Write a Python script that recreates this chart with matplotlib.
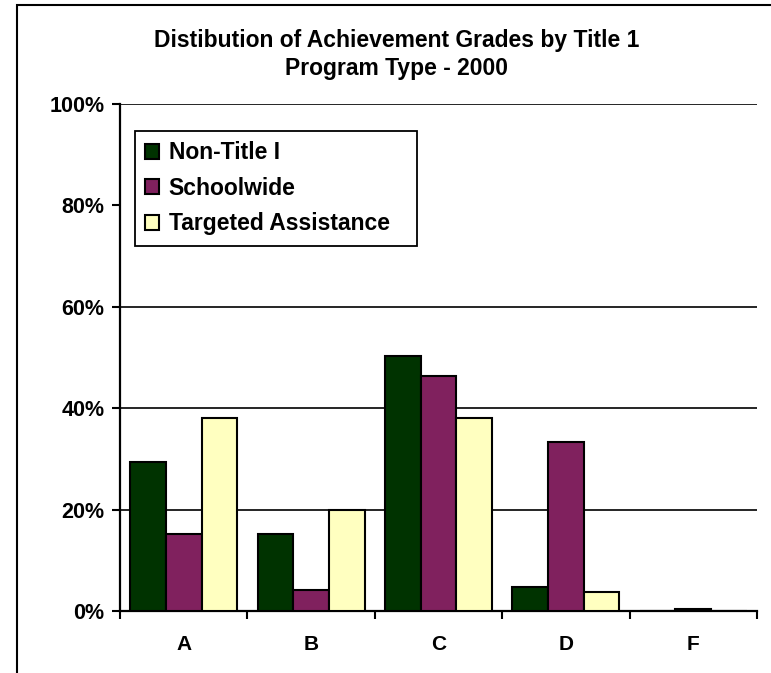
import numpy as np
import matplotlib
matplotlib.use("Agg")
import matplotlib.pyplot as plt
from matplotlib.patches import Rectangle

plt.rcParams['font.family'] = ['Liberation Sans', 'DejaVu Sans']
plt.rcParams['font.weight'] = 'bold'

grades = ['A', 'B', 'C', 'D', 'F']
non_title = [29.4, 15.2, 50.3, 4.7, 0.0]
schoolwide = [15.2, 4.2, 46.4, 33.3, 0.4]
targeted = [38.1, 20.0, 38.0, 3.8, 0.0]

series_names = ['Non-Title I', 'Schoolwide', 'Targeted Assistance']
colors = ['#003300', '#80215E', '#FFFFC0']

fig = plt.figure(figsize=(7.71, 6.73), dpi=100)
ax = fig.add_axes([120 / 771, 62 / 673, 637 / 771, 507 / 673])

x = np.arange(len(grades))
w = 0.28
for i, (vals, name, c) in enumerate(zip([non_title, schoolwide, targeted], series_names, colors)):
    ax.bar(x + (i - 1) * w, vals, w, color=c, edgecolor='black', linewidth=1.5,
           label=name, zorder=3)

# gridlines (80% one is not shown in the original)
for g in [20, 40, 60, 100]:
    ax.axhline(g, color='black', linewidth=1.2, zorder=1)

ax.set_xlim(-0.5, len(grades) - 0.5)
ax.set_ylim(0, 100)
ax.set_yticks([0, 20, 40, 60, 80, 100])
ax.set_yticklabels(['0%', '20%', '40%', '60%', '80%', '100%'])
ax.set_xticks(np.arange(-0.5, len(grades), 1.0))
ax.set_xticklabels([])
ax.set_xticks(x, minor=True)
ax.set_xticklabels(grades, minor=True)
ax.tick_params(axis='x', which='major', length=6, width=1.5, direction='out')
ax.tick_params(axis='x', which='minor', length=0, pad=17, labelsize=15)
ax.tick_params(axis='y', length=6, width=1.5, direction='out', pad=5, labelsize=15.5)

for s in ['top', 'right']:
    ax.spines[s].set_visible(False)
for s in ['left', 'bottom']:
    ax.spines[s].set_linewidth(1.6)

leg = ax.legend(loc='upper left', bbox_to_anchor=(0.0235, 0.5, (417 - 135) / 637, 0.447),
                mode='expand', fancybox=False,
                edgecolor='black', framealpha=1, fontsize=16.5, handlelength=0.62,
                handleheight=0.62, handletextpad=0.4, labelspacing=0.55,
                borderpad=0.45, borderaxespad=0)
leg.get_frame().set_linewidth(1.3)
leg.set_zorder(5)

fig.text(397 / 771, 1 - 40 / 673, 'Distibution of Achievement Grades by Title 1',
         ha='center', va='center', fontsize=16.5, fontweight='bold')
fig.text(397 / 771, 1 - 68 / 673, 'Program Type - 2000',
         ha='center', va='center', fontsize=16.5, fontweight='bold')

# outer chart border
fig.patches.append(Rectangle((17 / 771, -0.05), 1.1, 1 - 5 / 673 + 0.05,
                             transform=fig.transFigure, fill=False,
                             edgecolor='black', linewidth=1.5))

fig.savefig('out.png', dpi=100)
